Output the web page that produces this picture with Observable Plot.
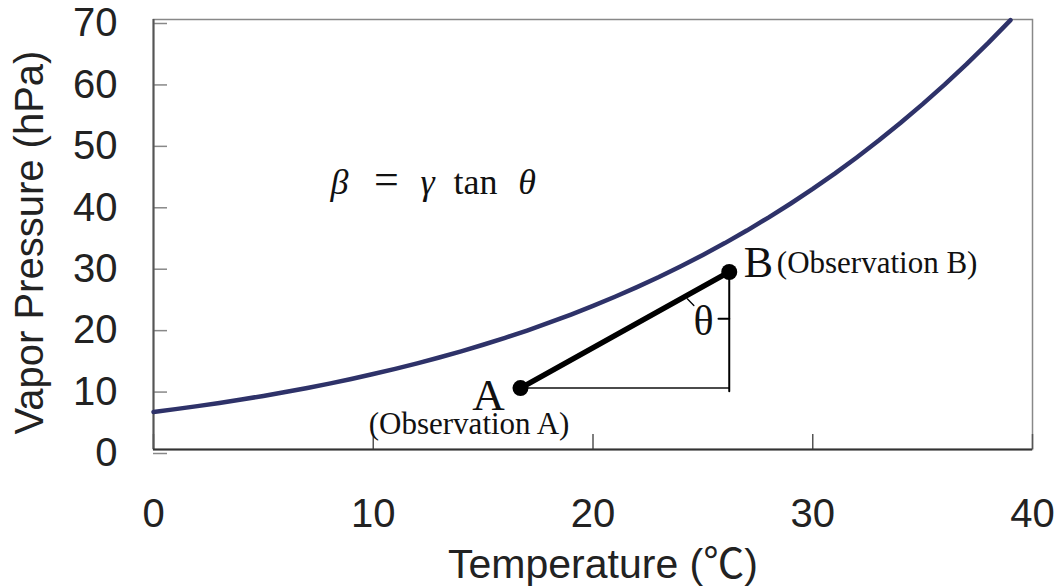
<!DOCTYPE html>
<html><head><meta charset="utf-8">
<script src="https://cdn.jsdelivr.net/npm/d3@7"></script>
<script src="https://cdn.jsdelivr.net/npm/@observablehq/plot@0.6"></script>
<style>body{margin:0;background:#fff}</style>
</head><body><div id="chart"></div>
<script>
// Saturation vapour pressure curve (°C, hPa)
const temperature = [0,1,2,3,4,5,6,7,8,9,10,11,12,13,14,15,16,17,18,19,20,21,22,23,24,25,26,27,28,29,30,31,32,33,34,35,36,37,38,39];
const vaporPressure = [6.11,6.57,7.06,7.58,8.13,8.72,9.35,10.02,10.73,11.48,12.28,13.13,14.02,14.98,15.98,17.05,18.18,19.37,20.64,21.97,23.38,24.86,26.43,28.08,29.84,31.67,33.60,35.64,37.79,40.05,42.42,44.91,47.54,50.29,53.18,56.22,59.40,62.74,66.24,69.90];
const xTicks = [0,10,20,30,40];
const yTicks = [0,10,20,30,40,50,60,70];
const xLabel = "Temperature (℃)";
const yLabel = "Vapor Pressure (hPa)";

// Observations
const obsT = [16.7, 26.2];
const obsE = [10.0, 28.9];
// triangle legs
const horizLegT = [16.7, 26.2], horizLegE = [10.0, 10.0];
const vertLegT = [26.2, 26.2], vertLegE = [28.9, 9.5];
// small angle marks
const thetaTickT = [25.71, 26.2], thetaTickE = [21.3, 21.3];
const thetaArcT = [24.29, 24.59], thetaArcE = [24.53, 23.44];

// annotation labels
const labelText = ["A", "(Observation A)", "B", "(Observation B)", "θ"];
const labelT = [15.25, 14.36, 27.53, 32.93, 25.03];
const labelE = [6.35, 2.6, 28.16, 28.81, 18.56];
const labelSize = [45, 31, 44, 31, 42];

// formula  β = γ tan θ
const formulaText = ["β", "=", "γ", "tan", "θ"];
const formulaItalic = [true, false, true, false, true];
const formulaSize = [36, 44, 36, 36, 36];
const formulaT = [8.46, 10.60, 12.47, 14.65, 17.0];
const formulaE = 41.67;

const curve = temperature.map((t, i) => ({t, e: vaporPressure[i]}));
const obs = obsT.map((t, i) => ({t, e: obsE[i]}));
const pts = (T, E) => T.map((t, i) => ({t, e: E[i]}));
const labels = labelText.map((s, i) => ({s, t: labelT[i], e: labelE[i], size: labelSize[i]}));
const formula = formulaText.map((s, i) => ({s, t: formulaT[i], e: formulaE, italic: formulaItalic[i], size: formulaSize[i]}));

const serif = "Liberation Serif, Times New Roman, serif";
const sans = "Liberation Sans, Noto Sans CJK JP, sans-serif";

const chart = Plot.plot({
  width: 1056,
  height: 586,
  marginLeft: 153,
  marginRight: 24,
  marginTop: 19,
  marginBottom: 137,
  style: {fontFamily: sans, background: "#fff", color: "#222"},
  x: {domain: [0, 40]},
  y: {domain: [0, 70]},
  marks: [
    Plot.frame({stroke: "#888", strokeWidth: 1.5}),
    Plot.axisY({ticks: yTicks, tickSize: -14, tickPadding: 50, fontSize: 40, stroke: "#888", strokeWidth: 1.5, fill: "#222", dy: 4, label: null}),
    Plot.axisX({ticks: xTicks, tickSize: -15, tickPadding: 63.6, fontSize: 40, stroke: "#555", strokeWidth: 1.5, fill: "#222", label: null}),
    Plot.ruleX([0], {stroke: "#555", strokeWidth: 2}),
    Plot.ruleY([0], {stroke: "#333", strokeWidth: 2}),
    Plot.text([yLabel], {frameAnchor: "left", rotate: -90, dx: -111, dy: 8, textAnchor: "middle", lineAnchor: "bottom", fontSize: 40, fill: "#222"}),
    Plot.text([xLabel], {frameAnchor: "bottom", dy: 128, dx: 10, textAnchor: "middle", lineAnchor: "bottom", fontSize: 41, fill: "#222"}),
    Plot.line(curve, {x: "t", y: "e", stroke: "#2e3269", strokeWidth: 4.5}),
    Plot.line(pts(horizLegT, horizLegE), {x: "t", y: "e", stroke: "#111", strokeWidth: 1.5}),
    Plot.line(pts(vertLegT, vertLegE), {x: "t", y: "e", stroke: "#000", strokeWidth: 2}),
    Plot.line(pts(thetaTickT, thetaTickE), {x: "t", y: "e", stroke: "#000", strokeWidth: 2}),
    Plot.line(pts(thetaArcT, thetaArcE), {x: "t", y: "e", stroke: "#000", strokeWidth: 1.3}),
    Plot.line(obs, {x: "t", y: "e", stroke: "#000", strokeWidth: 5.5}),
    Plot.dot(obs, {x: "t", y: "e", r: 8, fill: "#000"}),
    Plot.text(labels, {x: "t", y: "e", text: "s", fontSize: "size", lineAnchor: "bottom", fontFamily: serif, fill: "#111"}),
    Plot.text(formula.filter(d => d.italic), {x: "t", y: "e", text: "s", fontSize: "size", lineAnchor: "bottom", fontFamily: serif, fontStyle: "italic", fill: "#111"}),
    Plot.text(formula.filter(d => !d.italic), {x: "t", y: "e", text: "s", fontSize: "size", lineAnchor: "bottom", fontFamily: serif, fill: "#111"})
  ]
});
document.getElementById("chart").appendChild(chart);
</script>
</body></html>
